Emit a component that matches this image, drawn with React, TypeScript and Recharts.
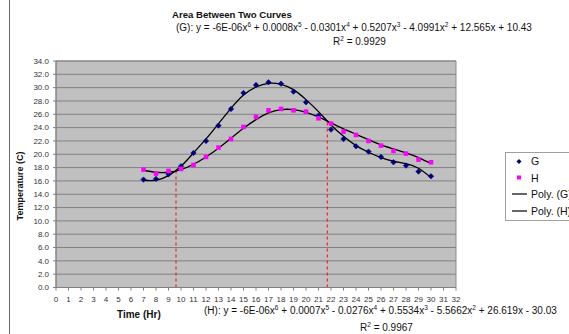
import React from "react";
import {
  ComposedChart,
  Line,
  XAxis,
  YAxis,
  CartesianGrid,
  ReferenceLine,
  ReferenceArea,
} from "recharts";

const hours = [7, 8, 9, 10, 11, 12, 13, 14, 15, 16, 17, 18, 19, 20, 21, 22, 23, 24, 25, 26, 27, 28, 29, 30];
const gTemps = [16.2, 16.3, 17.0, 18.2, 20.2, 22.0, 24.3, 26.8, 29.2, 30.4, 30.8, 30.6, 29.4, 27.8, 25.8, 23.7, 22.3, 21.2, 20.4, 19.6, 18.8, 18.3, 17.4, 16.7];
const hTemps = [17.7, 17.1, 17.5, 17.8, 18.4, 19.6, 21.0, 22.3, 24.1, 25.6, 26.6, 26.8, 26.6, 26.4, 25.4, 24.6, 23.4, 22.9, 22.0, 21.3, 20.5, 20.1, 19.2, 18.8];
const gTrend = [16.1, 16.1, 16.8, 18.2, 20.2, 22.3, 24.6, 26.9, 28.9, 30.1, 30.65, 30.5, 29.7, 28.2, 26.4, 24.4, 22.7, 21.3, 20.3, 19.5, 18.95, 18.6, 17.9, 16.5];
const hTrend = [17.6, 17.3, 17.3, 17.7, 18.5, 19.6, 20.9, 22.4, 23.9, 25.2, 26.2, 26.7, 26.7, 26.3, 25.6, 24.7, 23.8, 23.0, 22.2, 21.4, 20.8, 20.2, 19.5, 18.6];
const crossX = [9.6, 21.7];
const crossY = [17.5, 25.0];
const xTicks = Array.from({ length: 33 }, (_, i) => i);
const yTicks = Array.from({ length: 18 }, (_, i) => i * 2);
const legendLabels = ["G", "H", "Poly. (G)", "Poly. (H)"];

const data = hours.map((x, i) => ({
  x,
  g: gTemps[i],
  h: hTemps[i],
  tg: gTrend[i],
  th: hTrend[i],
}));

const FONT = "'Liberation Sans', Arial, sans-serif";

const GDot = (props: any) => {
  const { cx, cy } = props;
  if (cx == null || cy == null) return null;
  const r = 2.7;
  return (
    <polygon
      points={`${cx},${cy - r} ${cx + r},${cy} ${cx},${cy + r} ${cx - r},${cy}`}
      fill="#000080"
      stroke="#000080"
      strokeWidth={0.6}
    />
  );
};

const HDot = (props: any) => {
  const { cx, cy } = props;
  if (cx == null || cy == null) return null;
  return <rect x={cx - 2.3} y={cy - 2.3} width={4.6} height={4.6} fill="#ff00ff" />;
};

const sup = { fontSize: "6.5px", verticalAlign: "4px", lineHeight: 0 } as React.CSSProperties;

const textBase: React.CSSProperties = {
  position: "absolute",
  fontFamily: FONT,
  color: "#111",
  whiteSpace: "nowrap",
  lineHeight: "12px",
};

export default function App() {
  return (
    <div
      style={{
        position: "absolute",
        left: 0,
        top: 0,
        width: 569,
        height: 334,
        overflow: "hidden",
        background: "#ffffff",
      }}
    >
      <div style={{ position: "absolute", left: 9, top: 0, width: 1, height: 334, background: "#6a6a6a" }} />
      <ComposedChart
        width={569}
        height={334}
        data={data}
        margin={{ top: 61, right: 113, bottom: 26.5, left: 6 }}
        style={{ position: "absolute", left: 0, top: 0 }}
      >
        <CartesianGrid vertical={false} stroke="#808080" fill="#c0c0c0" />
        <ReferenceArea x1={0} x2={32} y1={0} y2={34} fill="none" stroke="#8a8a8a" strokeWidth={1} />
        <XAxis
          dataKey="x"
          type="number"
          domain={[0, 32]}
          ticks={xTicks}
          interval={0}
          allowDecimals={false}
          height={20}
          tickSize={3}
          tickMargin={6}
          stroke="#808080"
          tick={{ fontSize: 8, fill: "#333", fontFamily: FONT }}
        />
        <YAxis
          type="number"
          domain={[0, 34]}
          ticks={yTicks}
          interval={0}
          width={50}
          tickSize={3}
          tickMargin={4}
          stroke="#808080"
          tickFormatter={(v: number) => v.toFixed(1)}
          tick={{ fontSize: 8, fill: "#333", fontFamily: FONT }}
        />
        <ReferenceLine
          segment={[{ x: crossX[0], y: 0 }, { x: crossX[0], y: crossY[0] }]}
          stroke="#ff0000"
          strokeDasharray="3 3"
        />
        <ReferenceLine
          segment={[{ x: crossX[1], y: 0 }, { x: crossX[1], y: crossY[1] }]}
          stroke="#ff0000"
          strokeDasharray="3 3"
        />
        <Line dataKey="g" stroke="none" dot={<GDot />} activeDot={false} isAnimationActive={false} />
        <Line dataKey="h" stroke="none" dot={<HDot />} activeDot={false} isAnimationActive={false} />
        <Line dataKey="tg" type="natural" stroke="#000" strokeWidth={1.3} dot={false} activeDot={false} isAnimationActive={false} />
        <Line dataKey="th" type="natural" stroke="#000" strokeWidth={1.3} dot={false} activeDot={false} isAnimationActive={false} />
      </ComposedChart>

      <div style={{ ...textBase, left: 172, top: 9, fontSize: "9.6px", fontWeight: "bold" }}>Area Between Two Curves</div>
      <div style={{ ...textBase, left: 176, top: 22, fontSize: "10px" }}>
        (G): y = -6E-06x<sup style={sup}>6</sup> + 0.0008x<sup style={sup}>5</sup> - 0.0301x<sup style={sup}>4</sup> + 0.5207x<sup style={sup}>3</sup> - 4.0991x<sup style={sup}>2</sup> + 12.565x + 10.43
      </div>
      <div style={{ ...textBase, left: 333, top: 36, fontSize: "10px" }}>
        R<sup style={sup}>2</sup> = 0.9929
      </div>
      <div style={{ ...textBase, left: 204, top: 305, fontSize: "10px" }}>
        (H): y = -6E-06x<sup style={sup}>6</sup> + 0.0007x<sup style={sup}>5</sup> - 0.0276x<sup style={sup}>4</sup> + 0.5534x<sup style={sup}>3</sup> - 5.5662x<sup style={sup}>2</sup> + 26.619x - 30.03
      </div>
      <div style={{ ...textBase, left: 360, top: 322, fontSize: "10px" }}>
        R<sup style={sup}>2</sup> = 0.9967
      </div>
      <div style={{ ...textBase, left: 117, top: 309, fontSize: "10px", fontWeight: "bold" }}>Time (Hr)</div>
      <div
        style={{
          ...textBase,
          left: 20,
          top: 186,
          fontSize: "9px",
          fontWeight: "bold",
          transform: "translate(-50%, -50%) rotate(-90deg)",
        }}
      >
        Temperature (C)
      </div>

      <div
        style={{
          position: "absolute",
          left: 505,
          top: 152,
          width: 90,
          height: 67,
          border: "1px solid #a0a0a0",
          background: "#fff",
        }}
      >
        <svg width={90} height={67} style={{ position: "absolute", left: 0, top: 0 }}>
          <polygon points="13,6 15.5,8.5 13,11 10.5,8.5" fill="#000080" />
          <rect x={11} y={22.5} width={4} height={4} fill="#ff00ff" />
          <line x1={6} y1={41} x2={21} y2={41} stroke="#000" strokeWidth={1.2} />
          <line x1={6} y1={58} x2={21} y2={58} stroke="#000" strokeWidth={1.2} />
          <text x={25} y={12} fontSize={10.5} fontFamily={FONT} fill="#111">{legendLabels[0]}</text>
          <text x={25} y={28.5} fontSize={10.5} fontFamily={FONT} fill="#111">{legendLabels[1]}</text>
          <text x={25} y={44.5} fontSize={10.5} fontFamily={FONT} fill="#111">{legendLabels[2]}</text>
          <text x={25} y={61.5} fontSize={10.5} fontFamily={FONT} fill="#111">{legendLabels[3]}</text>
        </svg>
      </div>
    </div>
  );
}
